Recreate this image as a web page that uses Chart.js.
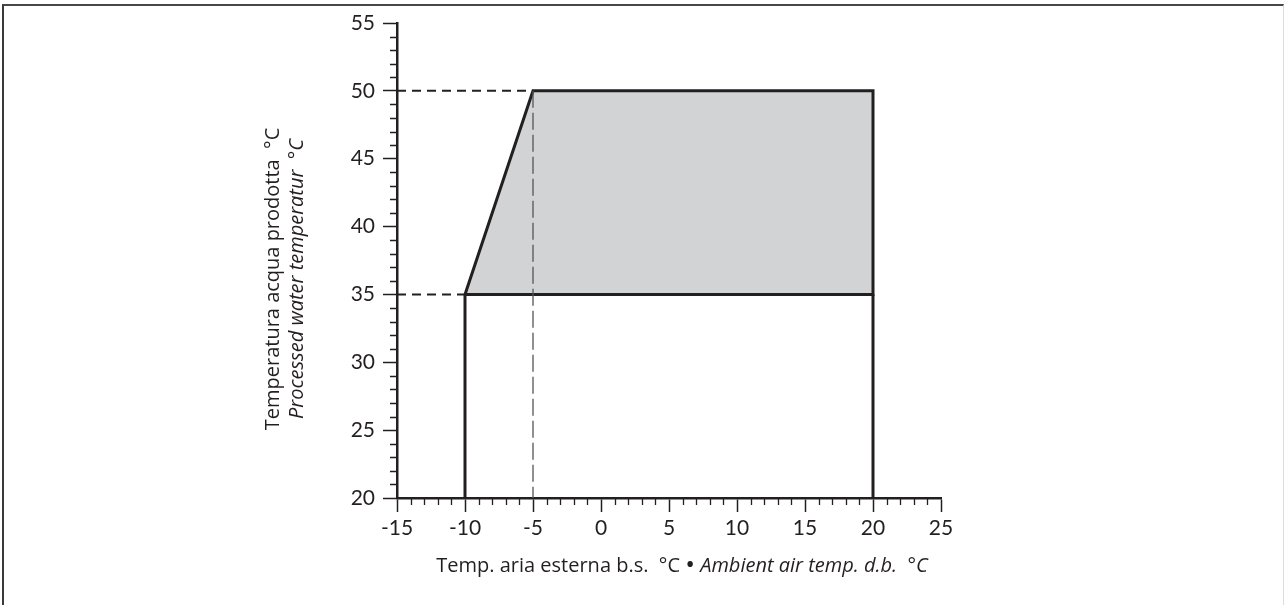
<!DOCTYPE html>
<html>
<head>
<meta charset="utf-8">
<script src="https://cdn.jsdelivr.net/npm/chart.js@4/dist/chart.umd.min.js"></script>
<style>
  html, body { margin: 0; padding: 0; background: #fff; overflow: hidden; }
  #wrap { position: relative; width: 1287px; height: 605px; }
  #frame { position: absolute; left: 2px; top: 4px; width: 1282px; height: 700px;
           border-top: 2px solid #474747; border-left: 2px solid #3a3a3a; border-right: 1px solid #dcdcdc; box-sizing: border-box; }
  canvas { position: absolute; left: 0; top: 0; }
</style>
</head>
<body>
<div id="wrap">
  <div id="frame"></div>
  <canvas id="c" width="1287" height="605"></canvas>
</div>
<script>
// ---- data ----
const envelopeX = [-10, -5, 20, 20, -10];
const envelopeY = [35, 50, 50, 35, 35];
const leftLegX = [-10, -10];
const leftLegY = [35, 20];
const rightLegX = [20, 20];
const rightLegY = [35, 20];
const dash50X = [-15, -5];
const dash50Y = [50, 50];
const dash35X = [-15, -10];
const dash35Y = [35, 35];
const dashVertX = [-5, -5];
const dashVertY = [50, 20];
const xMin = -15, xMax = 25, yMin = 20, yMax = 55;
const xTitleNormal = 'Temp. aria esterna b.s.  °C ';
const xTitleBullet = '•';
const xTitleItalic = ' Ambient air temp. d.b.  °C';
const yTitleLine1 = 'Temperatura acqua prodotta  °C';
const yTitleLine2 = 'Processed water temperatur  °C';

const pts = (xs, ys) => xs.map((x, i) => ({ x: x, y: ys[i] }));
const INK = '#231f20';
const FONT = 'Lato, "Open Sans", sans-serif';
const TFONT = '"Open Sans", Lato, sans-serif';
const TSIZE = 20;

const minorTicks = {
  id: 'minorTicks',
  afterDraw(chart) {
    const ctx = chart.ctx;
    const xs = chart.scales.x, ys = chart.scales.y;
    ctx.save();
    ctx.strokeStyle = INK;
    ctx.lineWidth = 1.3;
    ctx.beginPath();
    for (let v = xMin; v <= xMax; v++) {
      if (v % 5 === 0) continue;
      const px = Math.round(xs.getPixelForValue(v)) + 0.5;
      ctx.moveTo(px, ys.bottom);
      ctx.lineTo(px, ys.bottom + 7);
    }
    for (let v = yMin; v <= yMax; v++) {
      if (v % 5 === 0) continue;
      const py = Math.round(ys.getPixelForValue(v)) + 0.5;
      ctx.moveTo(xs.left, py);
      ctx.lineTo(xs.left - 7, py);
    }
    ctx.stroke();

    // axis titles (mixed upright / italic)
    ctx.fillStyle = INK;
    ctx.textBaseline = 'middle';
    const fN = TSIZE + 'px ' + TFONT;
    const fB = (TSIZE + 6) + 'px ' + TFONT;
    const fI = 'italic ' + TSIZE + 'px ' + TFONT;
    ctx.font = fN; const w1 = ctx.measureText(xTitleNormal).width;
    ctx.font = fB; const wb = ctx.measureText(xTitleBullet).width;
    ctx.font = fI; const w2 = ctx.measureText(xTitleItalic).width;
    const cx = 682, cy = 566;
    let sx = cx - (w1 + wb + w2) / 2;
    ctx.textAlign = 'left';
    ctx.font = fN; ctx.fillText(xTitleNormal, sx, cy);
    ctx.font = fB; ctx.fillText(xTitleBullet, sx + w1, cy);
    ctx.font = fI; ctx.fillText(xTitleItalic, sx + w1 + wb, cy);

    ctx.save();
    ctx.translate(273, 279);
    ctx.rotate(-Math.PI / 2);
    ctx.textAlign = 'center';
    ctx.font = fN;
    ctx.fillText(yTitleLine1, 0, 0);
    ctx.restore();
    ctx.save();
    ctx.translate(297, 279);
    ctx.rotate(-Math.PI / 2);
    ctx.textAlign = 'center';
    ctx.font = fI;
    ctx.fillText(yTitleLine2, 0, 0);
    ctx.restore();
    ctx.restore();
  }
};

const majorTickColor = (c) => (c.tick && c.tick.value % 5 === 0) ? INK : 'rgba(0,0,0,0)';

new Chart(document.getElementById('c'), {
  type: 'scatter',
  data: {
    datasets: [
      { data: pts(envelopeX, envelopeY), showLine: true, fill: 'shape', backgroundColor: '#d1d3d4',
        borderColor: INK, borderWidth: 3, pointRadius: 0, order: 3, borderJoinStyle: 'miter' },
      { data: pts(leftLegX, leftLegY), showLine: true, borderColor: INK, borderWidth: 3, pointRadius: 0, order: 2 },
      { data: pts(rightLegX, rightLegY), showLine: true, borderColor: INK, borderWidth: 3, pointRadius: 0, order: 2 },
      { data: pts(dash50X, dash50Y), showLine: true, borderColor: INK, borderWidth: 2, borderDash: [9, 6], pointRadius: 0, order: 2 },
      { data: pts(dash35X, dash35Y), showLine: true, borderColor: INK, borderWidth: 2, borderDash: [9, 6], pointRadius: 0, order: 2 },
      { data: pts(dashVertX, dashVertY), showLine: true, borderColor: '#555555', borderWidth: 1.3, borderDash: [17, 5], pointRadius: 0, order: 1 }
    ]
  },
  options: {
    responsive: false,
    animation: false,
    clip: false,
    layout: { padding: { left: 0, right: 346, top: 23, bottom: 0 } },
    plugins: { legend: { display: false }, tooltip: { enabled: false } },
    scales: {
      x: {
        type: 'linear', min: xMin, max: xMax,
        afterFit: (s) => { s.height = 107; },
        border: { display: true, color: INK, width: 2.5 },
        grid: { drawOnChartArea: false, drawTicks: true, tickLength: 14, tickColor: majorTickColor, tickWidth: 1.5 },
        ticks: { stepSize: 1, autoSkip: false, maxRotation: 0, padding: 4, color: INK,
                 font: { family: FONT, size: 21 },
                 callback: (v) => (v % 5 === 0 ? String(v) : '') }
      },
      y: {
        type: 'linear', min: yMin, max: yMax,
        afterFit: (s) => { s.width = 397; },
        border: { display: true, color: INK, width: 2.5 },
        grid: { drawOnChartArea: false, drawTicks: true, tickLength: 14, tickColor: majorTickColor, tickWidth: 1.5 },
        ticks: { stepSize: 1, autoSkip: false, padding: 8, color: INK,
                 font: { family: FONT, size: 21 },
                 callback: (v) => (v % 5 === 0 ? String(v) : '') }
      }
    }
  },
  plugins: [minorTicks]
});
</script>
</body>
</html>
